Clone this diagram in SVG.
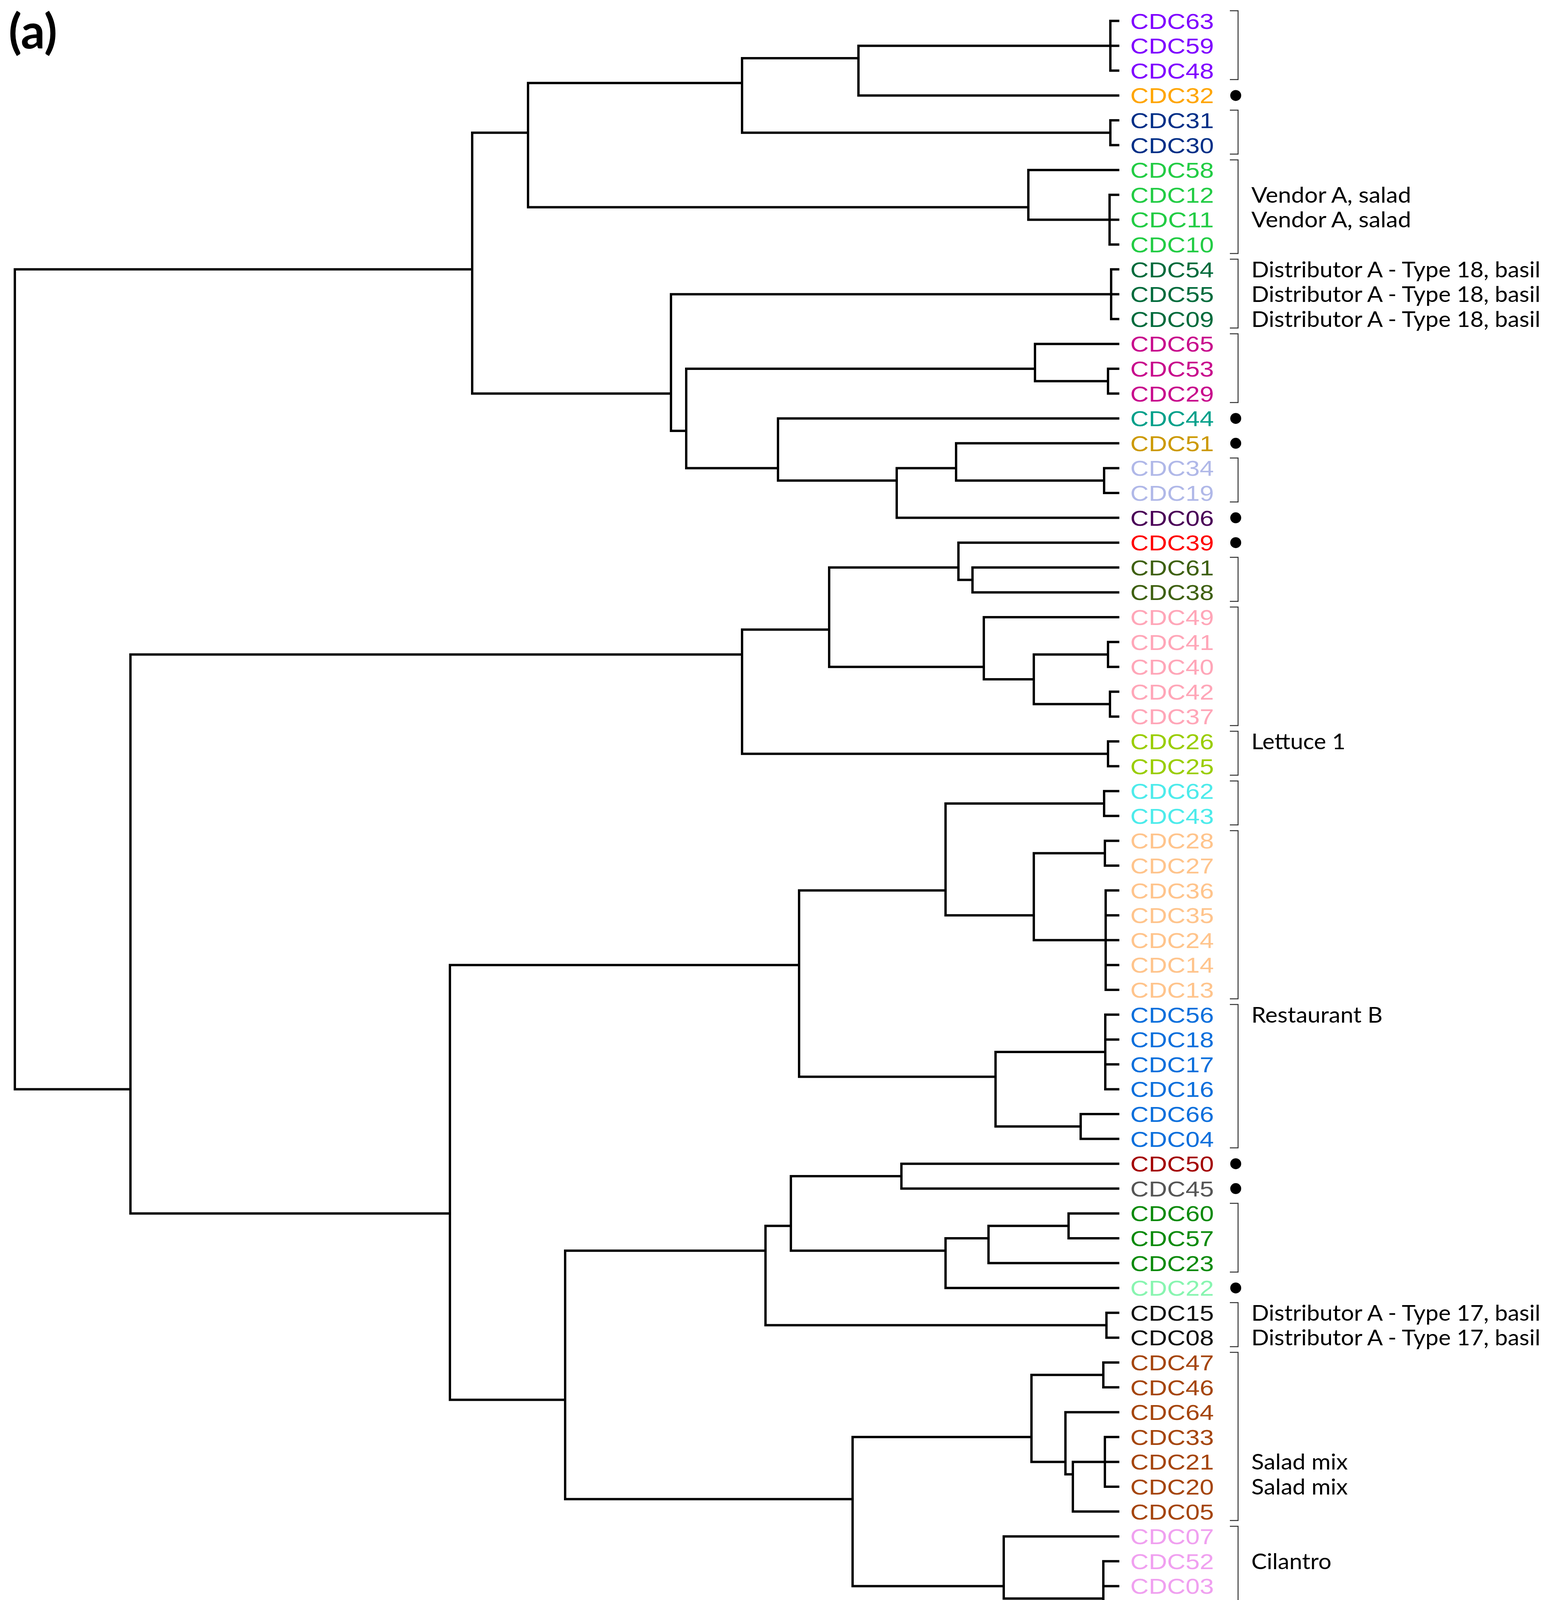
<svg xmlns="http://www.w3.org/2000/svg" width="3961" height="4670" viewBox="0 0 3961 4670">
<style>
.tree path{fill:none;stroke:#000;stroke-width:6;stroke-linecap:square}
.br{fill:none;stroke:#333;stroke-width:2.5}
.lb{font-family:"Liberation Sans",Arial,sans-serif;font-size:56px}
.an{font-family:Lato,"Open Sans",sans-serif;font-size:57px;fill:#000}
.ax{font-family:"Liberation Sans",Arial,sans-serif;font-size:100px;fill:#000;text-anchor:middle}
.c1{fill:#7F00FF}.c2{fill:#FFA500}.c3{fill:#002F87}.c4{fill:#22CC44}.c5{fill:#006B3C}
.c6{fill:#C80A8C}.c7{fill:#00A08A}.c8{fill:#CC9900}.c9{fill:#B0B8E8}.c10{fill:#4A0057}
.c11{fill:#FF0000}.c12{fill:#3E6010}.c13{fill:#FFA6B8}.c14{fill:#9ACD00}.c15{fill:#4DEBEB}
.c16{fill:#FFC48C}.c17{fill:#0B6FDC}.c18{fill:#A30000}.c19{fill:#555555}.c20{fill:#0A8A0A}
.c21{fill:#88F5B0}.c22{fill:#111111}.c23{fill:#A5450C}.c24{fill:#F0A0F0}
</style>
<rect width="3961" height="4670" fill="#fff"/>
<text x="22" y="124" font-family="Lato,'Open Sans',sans-serif" font-weight="bold" font-size="122">(a)</text>

<g id="connectors" class="tree">
<path d="M38,689.6 V2788.4 M38,689.6 H1209 M38,2788.4 H334"/>
<path d="M1209,339.8 V1007.6 M1209,339.8 H1352 M1209,1007.6 H1718"/>
<path d="M1352,212.6 V530.6 M1352,212.6 H1900 M1352,530.6 H2633"/>
<path d="M1900,149 V339.8 M1900,149 H2198 M1900,339.8 H2843"/>
<path d="M2198,117.2 V244.4 M2198,117.2 H2843 M2198,244.4 H2863"/>
<path d="M2843,53.6 V180.8 M2843,53.6 H2863 M2843,117.2 H2863 M2843,180.8 H2863"/>
<path d="M2843,308 V371.6 M2843,308 H2863 M2843,371.6 H2863"/>
<path d="M2633,435.2 V562.4 M2633,435.2 H2863 M2633,562.4 H2841"/>
<path d="M2841,498.8 V626 M2841,498.8 H2863 M2841,562.4 H2863 M2841,626 H2863"/>
<path d="M1718,753.2 V1103 M1718,753.2 H2845 M1718,1103 H1757"/>
<path d="M2845,689.6 V816.8 M2845,689.6 H2863 M2845,753.2 H2863 M2845,816.8 H2863"/>
<path d="M1757,944 V1198.4 M1757,944 H2650 M1757,1198.4 H1992"/>
<path d="M2650,880.4 V975.8 M2650,880.4 H2863 M2650,975.8 H2837"/>
<path d="M2837,944 V1007.6 M2837,944 H2863 M2837,1007.6 H2863"/>
<path d="M1992,1071.2 V1230.2 M1992,1071.2 H2863 M1992,1230.2 H2296"/>
<path d="M2296,1198.4 V1325.6 M2296,1198.4 H2448 M2296,1325.6 H2863"/>
<path d="M2448,1134.8 V1230.2 M2448,1134.8 H2863 M2448,1230.2 H2827"/>
<path d="M2827,1198.4 V1262 M2827,1198.4 H2863 M2827,1262 H2863"/>
<path d="M334,1675.4 V3106.4 M334,1675.4 H1900 M334,3106.4 H1152"/>
<path d="M1900,1611.8 V1929.8 M1900,1611.8 H2123 M1900,1929.8 H2837"/>
<path d="M2123,1452.8 V1707.2 M2123,1452.8 H2454 M2123,1707.2 H2519"/>
<path d="M2454,1389.2 V1484.6 M2454,1389.2 H2863 M2454,1484.6 H2490"/>
<path d="M2490,1452.8 V1516.4 M2490,1452.8 H2863 M2490,1516.4 H2863"/>
<path d="M2519,1580 V1739 M2519,1580 H2863 M2519,1739 H2647"/>
<path d="M2647,1675.4 V1802.6 M2647,1675.4 H2837 M2647,1802.6 H2842"/>
<path d="M2837,1643.6 V1707.2 M2837,1643.6 H2863 M2837,1707.2 H2863"/>
<path d="M2842,1770.8 V1834.4 M2842,1770.8 H2863 M2842,1834.4 H2863"/>
<path d="M2837,1898 V1961.6 M2837,1898 H2863 M2837,1961.6 H2863"/>
<path d="M1152,2470.4 V3583.4 M1152,2470.4 H2046 M1152,3583.4 H1447"/>
<path d="M2046,2279.6 V2756.6 M2046,2279.6 H2421 M2046,2756.6 H2549"/>
<path d="M2421,2057 V2343.2 M2421,2057 H2827 M2421,2343.2 H2647"/>
<path d="M2827,2025.2 V2088.8 M2827,2025.2 H2863 M2827,2088.8 H2863"/>
<path d="M2647,2184.2 V2406.8 M2647,2184.2 H2829 M2647,2406.8 H2831"/>
<path d="M2829,2152.4 V2216 M2829,2152.4 H2863 M2829,2216 H2863"/>
<path d="M2831,2279.6 V2534 M2831,2279.6 H2863 M2831,2343.2 H2863 M2831,2406.8 H2863 M2831,2470.4 H2863 M2831,2534 H2863"/>
<path d="M2549,2693 V2883.8 M2549,2693 H2830 M2549,2883.8 H2767"/>
<path d="M2830,2597.6 V2788.4 M2830,2597.6 H2863 M2830,2661.2 H2863 M2830,2724.8 H2863 M2830,2788.4 H2863"/>
<path d="M2767,2852 V2915.6 M2767,2852 H2863 M2767,2915.6 H2863"/>
<path d="M1447,3201.8 V3837.8 M1447,3201.8 H1960 M1447,3837.8 H2183"/>
<path d="M1960,3138.2 V3392.6 M1960,3138.2 H2025 M1960,3392.6 H2833"/>
<path d="M2025,3011 V3201.8 M2025,3011 H2308 M2025,3201.8 H2421"/>
<path d="M2308,2979.2 V3042.8 M2308,2979.2 H2863 M2308,3042.8 H2863"/>
<path d="M2421,3170 V3297.2 M2421,3170 H2531 M2421,3297.2 H2863"/>
<path d="M2531,3138.2 V3233.6 M2531,3138.2 H2736 M2531,3233.6 H2863"/>
<path d="M2736,3106.4 V3170 M2736,3106.4 H2863 M2736,3170 H2863"/>
<path d="M2833,3360.8 V3424.4 M2833,3360.8 H2863 M2833,3424.4 H2863"/>
<path d="M2183,3678.8 V4060.4 M2183,3678.8 H2641 M2183,4060.4 H2570"/>
<path d="M2641,3519.8 V3742.4 M2641,3519.8 H2825 M2641,3742.4 H2728"/>
<path d="M2825,3488 V3551.6 M2825,3488 H2863 M2825,3551.6 H2863"/>
<path d="M2728,3615.2 V3774.2 M2728,3615.2 H2863 M2728,3774.2 H2747"/>
<path d="M2747,3742.4 V3869.6 M2747,3742.4 H2829 M2747,3869.6 H2863"/>
<path d="M2829,3678.8 V3806 M2829,3678.8 H2863 M2829,3742.4 H2863 M2829,3806 H2863"/>
<path d="M2570,3933.2 V4092.2 M2570,3933.2 H2863 M2570,4092.2 H2825"/>
<path d="M2825,3996.8 V4187.6 M2825,3996.8 H2863 M2825,4060.4 H2863 M2825,4124 H2863 M2825,4187.6 H2863"/>
</g>

<g id="leaves" class="lb">
<text id="n-CDC63" class="c1" x="2894" y="73.6" textLength="214" lengthAdjust="spacingAndGlyphs">CDC63</text>
<text id="n-CDC59" class="c1" x="2894" y="137.2" textLength="214" lengthAdjust="spacingAndGlyphs">CDC59</text>
<text id="n-CDC48" class="c1" x="2894" y="200.8" textLength="214" lengthAdjust="spacingAndGlyphs">CDC48</text>
<text id="n-CDC32" class="c2" x="2894" y="264.4" textLength="214" lengthAdjust="spacingAndGlyphs">CDC32</text>
<text id="n-CDC31" class="c3" x="2894" y="328" textLength="214" lengthAdjust="spacingAndGlyphs">CDC31</text>
<text id="n-CDC30" class="c3" x="2894" y="391.6" textLength="214" lengthAdjust="spacingAndGlyphs">CDC30</text>
<text id="n-CDC58" class="c4" x="2894" y="455.2" textLength="214" lengthAdjust="spacingAndGlyphs">CDC58</text>
<text id="n-CDC12" class="c4" x="2894" y="518.8" textLength="214" lengthAdjust="spacingAndGlyphs">CDC12</text>
<text id="n-CDC11" class="c4" x="2894" y="582.4" textLength="214" lengthAdjust="spacingAndGlyphs">CDC11</text>
<text id="n-CDC10" class="c4" x="2894" y="646" textLength="214" lengthAdjust="spacingAndGlyphs">CDC10</text>
<text id="n-CDC54" class="c5" x="2894" y="709.6" textLength="214" lengthAdjust="spacingAndGlyphs">CDC54</text>
<text id="n-CDC55" class="c5" x="2894" y="773.2" textLength="214" lengthAdjust="spacingAndGlyphs">CDC55</text>
<text id="n-CDC09" class="c5" x="2894" y="836.8" textLength="214" lengthAdjust="spacingAndGlyphs">CDC09</text>
<text id="n-CDC65" class="c6" x="2894" y="900.4" textLength="214" lengthAdjust="spacingAndGlyphs">CDC65</text>
<text id="n-CDC53" class="c6" x="2894" y="964" textLength="214" lengthAdjust="spacingAndGlyphs">CDC53</text>
<text id="n-CDC29" class="c6" x="2894" y="1027.6" textLength="214" lengthAdjust="spacingAndGlyphs">CDC29</text>
<text id="n-CDC44" class="c7" x="2894" y="1091.2" textLength="214" lengthAdjust="spacingAndGlyphs">CDC44</text>
<text id="n-CDC51" class="c8" x="2894" y="1154.8" textLength="214" lengthAdjust="spacingAndGlyphs">CDC51</text>
<text id="n-CDC34" class="c9" x="2894" y="1218.4" textLength="214" lengthAdjust="spacingAndGlyphs">CDC34</text>
<text id="n-CDC19" class="c9" x="2894" y="1282" textLength="214" lengthAdjust="spacingAndGlyphs">CDC19</text>
<text id="n-CDC06" class="c10" x="2894" y="1345.6" textLength="214" lengthAdjust="spacingAndGlyphs">CDC06</text>
<text id="n-CDC39" class="c11" x="2894" y="1409.2" textLength="214" lengthAdjust="spacingAndGlyphs">CDC39</text>
<text id="n-CDC61" class="c12" x="2894" y="1472.8" textLength="214" lengthAdjust="spacingAndGlyphs">CDC61</text>
<text id="n-CDC38" class="c12" x="2894" y="1536.4" textLength="214" lengthAdjust="spacingAndGlyphs">CDC38</text>
<text id="n-CDC49" class="c13" x="2894" y="1600" textLength="214" lengthAdjust="spacingAndGlyphs">CDC49</text>
<text id="n-CDC41" class="c13" x="2894" y="1663.6" textLength="214" lengthAdjust="spacingAndGlyphs">CDC41</text>
<text id="n-CDC40" class="c13" x="2894" y="1727.2" textLength="214" lengthAdjust="spacingAndGlyphs">CDC40</text>
<text id="n-CDC42" class="c13" x="2894" y="1790.8" textLength="214" lengthAdjust="spacingAndGlyphs">CDC42</text>
<text id="n-CDC37" class="c13" x="2894" y="1854.4" textLength="214" lengthAdjust="spacingAndGlyphs">CDC37</text>
<text id="n-CDC26" class="c14" x="2894" y="1918" textLength="214" lengthAdjust="spacingAndGlyphs">CDC26</text>
<text id="n-CDC25" class="c14" x="2894" y="1981.6" textLength="214" lengthAdjust="spacingAndGlyphs">CDC25</text>
<text id="n-CDC62" class="c15" x="2894" y="2045.2" textLength="214" lengthAdjust="spacingAndGlyphs">CDC62</text>
<text id="n-CDC43" class="c15" x="2894" y="2108.8" textLength="214" lengthAdjust="spacingAndGlyphs">CDC43</text>
<text id="n-CDC28" class="c16" x="2894" y="2172.4" textLength="214" lengthAdjust="spacingAndGlyphs">CDC28</text>
<text id="n-CDC27" class="c16" x="2894" y="2236" textLength="214" lengthAdjust="spacingAndGlyphs">CDC27</text>
<text id="n-CDC36" class="c16" x="2894" y="2299.6" textLength="214" lengthAdjust="spacingAndGlyphs">CDC36</text>
<text id="n-CDC35" class="c16" x="2894" y="2363.2" textLength="214" lengthAdjust="spacingAndGlyphs">CDC35</text>
<text id="n-CDC24" class="c16" x="2894" y="2426.8" textLength="214" lengthAdjust="spacingAndGlyphs">CDC24</text>
<text id="n-CDC14" class="c16" x="2894" y="2490.4" textLength="214" lengthAdjust="spacingAndGlyphs">CDC14</text>
<text id="n-CDC13" class="c16" x="2894" y="2554" textLength="214" lengthAdjust="spacingAndGlyphs">CDC13</text>
<text id="n-CDC56" class="c17" x="2894" y="2617.6" textLength="214" lengthAdjust="spacingAndGlyphs">CDC56</text>
<text id="n-CDC18" class="c17" x="2894" y="2681.2" textLength="214" lengthAdjust="spacingAndGlyphs">CDC18</text>
<text id="n-CDC17" class="c17" x="2894" y="2744.8" textLength="214" lengthAdjust="spacingAndGlyphs">CDC17</text>
<text id="n-CDC16" class="c17" x="2894" y="2808.4" textLength="214" lengthAdjust="spacingAndGlyphs">CDC16</text>
<text id="n-CDC66" class="c17" x="2894" y="2872" textLength="214" lengthAdjust="spacingAndGlyphs">CDC66</text>
<text id="n-CDC04" class="c17" x="2894" y="2935.6" textLength="214" lengthAdjust="spacingAndGlyphs">CDC04</text>
<text id="n-CDC50" class="c18" x="2894" y="2999.2" textLength="214" lengthAdjust="spacingAndGlyphs">CDC50</text>
<text id="n-CDC45" class="c19" x="2894" y="3062.8" textLength="214" lengthAdjust="spacingAndGlyphs">CDC45</text>
<text id="n-CDC60" class="c20" x="2894" y="3126.4" textLength="214" lengthAdjust="spacingAndGlyphs">CDC60</text>
<text id="n-CDC57" class="c20" x="2894" y="3190" textLength="214" lengthAdjust="spacingAndGlyphs">CDC57</text>
<text id="n-CDC23" class="c20" x="2894" y="3253.6" textLength="214" lengthAdjust="spacingAndGlyphs">CDC23</text>
<text id="n-CDC22" class="c21" x="2894" y="3317.2" textLength="214" lengthAdjust="spacingAndGlyphs">CDC22</text>
<text id="n-CDC15" class="c22" x="2894" y="3380.8" textLength="214" lengthAdjust="spacingAndGlyphs">CDC15</text>
<text id="n-CDC08" class="c22" x="2894" y="3444.4" textLength="214" lengthAdjust="spacingAndGlyphs">CDC08</text>
<text id="n-CDC47" class="c23" x="2894" y="3508" textLength="214" lengthAdjust="spacingAndGlyphs">CDC47</text>
<text id="n-CDC46" class="c23" x="2894" y="3571.6" textLength="214" lengthAdjust="spacingAndGlyphs">CDC46</text>
<text id="n-CDC64" class="c23" x="2894" y="3635.2" textLength="214" lengthAdjust="spacingAndGlyphs">CDC64</text>
<text id="n-CDC33" class="c23" x="2894" y="3698.8" textLength="214" lengthAdjust="spacingAndGlyphs">CDC33</text>
<text id="n-CDC21" class="c23" x="2894" y="3762.4" textLength="214" lengthAdjust="spacingAndGlyphs">CDC21</text>
<text id="n-CDC20" class="c23" x="2894" y="3826" textLength="214" lengthAdjust="spacingAndGlyphs">CDC20</text>
<text id="n-CDC05" class="c23" x="2894" y="3889.6" textLength="214" lengthAdjust="spacingAndGlyphs">CDC05</text>
<text id="n-CDC07" class="c24" x="2894" y="3953.2" textLength="214" lengthAdjust="spacingAndGlyphs">CDC07</text>
<text id="n-CDC52" class="c24" x="2894" y="4016.8" textLength="214" lengthAdjust="spacingAndGlyphs">CDC52</text>
<text id="n-CDC03" class="c24" x="2894" y="4080.4" textLength="214" lengthAdjust="spacingAndGlyphs">CDC03</text>
<text id="n-CDC02" class="c24" x="2894" y="4144" textLength="214" lengthAdjust="spacingAndGlyphs">CDC02</text>
<text id="n-CDC01" class="c24" x="2894" y="4207.6" textLength="214" lengthAdjust="spacingAndGlyphs">CDC01</text>
</g>

<g id="brackets" class="br">
<path d="M3149,27.6 H3170 V203.8 H3149"/>
<path d="M3149,282 H3170 V394.6 H3149"/>
<path d="M3149,409.2 H3170 V649 H3149"/>
<path d="M3149,663.6 H3170 V839.8 H3149"/>
<path d="M3149,854.4 H3170 V1030.6 H3149"/>
<path d="M3149,1172.4 H3170 V1285 H3149"/>
<path d="M3149,1426.8 H3170 V1539.4 H3149"/>
<path d="M3149,1554 H3170 V1857.4 H3149"/>
<path d="M3149,1872 H3170 V1984.6 H3149"/>
<path d="M3149,1999.2 H3170 V2111.8 H3149"/>
<path d="M3149,2126.4 H3170 V2557 H3149"/>
<path d="M3149,2571.6 H3170 V2938.6 H3149"/>
<path d="M3149,3080.4 H3170 V3256.6 H3149"/>
<path d="M3149,3334.8 H3170 V3447.4 H3149"/>
<path d="M3149,3462 H3170 V3892.6 H3149"/>
<path d="M3149,3907.2 H3170 V4210.6 H3149"/>
</g>

<g id="dots" fill="#000">
<circle cx="3164" cy="244.4" r="14"/>
<circle cx="3164" cy="1071.2" r="14"/>
<circle cx="3164" cy="1134.8" r="14"/>
<circle cx="3164" cy="1325.6" r="14"/>
<circle cx="3164" cy="1389.2" r="14"/>
<circle cx="3164" cy="2979.2" r="14"/>
<circle cx="3164" cy="3042.8" r="14"/>
<circle cx="3164" cy="3297.2" r="14"/>
</g>

<g id="annotations" class="an">
<text x="3204" y="518.8" textLength="409" lengthAdjust="spacingAndGlyphs">Vendor A, salad</text>
<text x="3204" y="582.4" textLength="409" lengthAdjust="spacingAndGlyphs">Vendor A, salad</text>
<text x="3204" y="709.6" textLength="740" lengthAdjust="spacingAndGlyphs">Distributor A - Type 18, basil</text>
<text x="3204" y="773.2" textLength="740" lengthAdjust="spacingAndGlyphs">Distributor A - Type 18, basil</text>
<text x="3204" y="836.8" textLength="740" lengthAdjust="spacingAndGlyphs">Distributor A - Type 18, basil</text>
<text x="3204" y="1918" textLength="241" lengthAdjust="spacingAndGlyphs">Lettuce 1</text>
<text x="3204" y="2617.6" textLength="336" lengthAdjust="spacingAndGlyphs">Restaurant B</text>
<text x="3204" y="3380.8" textLength="740" lengthAdjust="spacingAndGlyphs">Distributor A - Type 17, basil</text>
<text x="3204" y="3444.4" textLength="740" lengthAdjust="spacingAndGlyphs">Distributor A - Type 17, basil</text>
<text x="3204" y="3762.4" textLength="247" lengthAdjust="spacingAndGlyphs">Salad mix</text>
<text x="3204" y="3826" textLength="247" lengthAdjust="spacingAndGlyphs">Salad mix</text>
<text x="3204" y="4016.8" textLength="205" lengthAdjust="spacingAndGlyphs">Cilantro</text>
</g>

<g id="axis">
<path d="M628,4423 H2859 M628,4423 V4485 M1372,4423 V4485 M2115,4423 V4485 M2859,4423 V4485" fill="none" stroke="#000" stroke-width="5" stroke-linecap="square"/>
<text class="ax" x="628" y="4637">600</text>
<text class="ax" x="1372" y="4637">400</text>
<text class="ax" x="2115" y="4637">200</text>
<text class="ax" x="2859" y="4637">0</text>
</g>
</svg>
